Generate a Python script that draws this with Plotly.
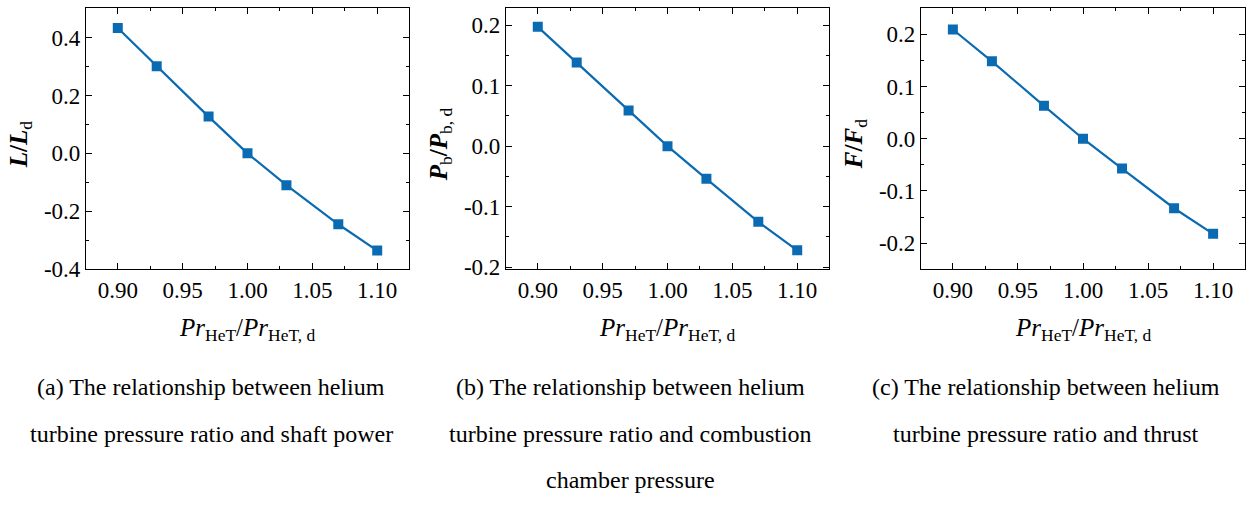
import plotly.graph_objects as go

# Normalised helium turbine pressure ratio (x) and relative changes of three outputs
pr_ratio = [0.90, 0.93, 0.97, 1.00, 1.03, 1.07, 1.10]
shaft_power = [0.433, 0.301, 0.127, 0.0, -0.110, -0.245, -0.336]
chamber_pressure = [0.197, 0.138, 0.059, 0.0, -0.054, -0.125, -0.172]
thrust = [0.209, 0.148, 0.063, 0.0, -0.057, -0.133, -0.182]

x_ticks = [0.90, 0.95, 1.00, 1.05, 1.10]
x_tick_text = ["0.90", "0.95", "1.00", "1.05", "1.10"]
ya_ticks = [-0.4, -0.2, 0.0, 0.2, 0.4]
ya_tick_text = ["-0.4", "-0.2", "0.0", "0.2", "0.4"]
ybc_ticks = [-0.2, -0.1, 0.0, 0.1, 0.2]
ybc_tick_text = ["-0.2", "-0.1", "0.0", "0.1", "0.2"]

y_titles = ["<b><i>L</i>/<i>L</i></b><sub>d</sub>",
            "<b><i>P</i></b><sub>b</sub><b>/<i>P</i></b><sub>b, d</sub>",
            "<b><i>F</i>/<i>F</i></b><sub>d</sub>"]
x_title = "<i>Pr</i><sub>HeT</sub>/<i>Pr</i><sub>HeT, d</sub>"
captions = [
    ["(a) The relationship between helium", "turbine pressure ratio and shaft power"],
    ["(b) The relationship between helium", "turbine pressure ratio and combustion",
     "chamber pressure"],
    ["(c) The relationship between helium", "turbine pressure ratio and thrust"],
]

W, H = 1247, 506
FONT = "Liberation Serif"
BLUE = "#0a6bb2"

x_domains = [(86, 409), (506, 829), (921, 1245)]
y_top, y_bot = 8, 276.5
y_domain = [1 - y_bot / H, 1 - y_top / H]

series = [shaft_power, chamber_pressure, thrust]
y_ranges = [[-0.401, 0.503], [-0.2035, 0.2285], [-0.25, 0.2505]]
y_tickvals = [ya_ticks, ybc_ticks, ybc_ticks]
y_ticktext = [ya_tick_text, ybc_tick_text, ybc_tick_text]
y_minor = [0.1, 0.05, 0.05]
caption_cx = [211, 630, 1046]
caption_y = [397, 445, 493]

fig = go.Figure()
for i, ys in enumerate(series):
    sfx = "" if i == 0 else str(i + 1)
    fig.add_trace(go.Scatter(
        x=pr_ratio, y=ys, mode="lines+markers",
        line=dict(color=BLUE, width=2.2),
        marker=dict(symbol="square", size=10, color=BLUE),
        xaxis="x" + sfx, yaxis="y" + sfx, showlegend=False,
    ))
    common = dict(showline=True, linecolor="black", linewidth=1.2, mirror="allticks",
                  ticks="inside", ticklen=6, tickwidth=1.2, tickcolor="black",
                  showgrid=False, zeroline=False,
                  tickfont=dict(family=FONT, size=23, color="black"))
    x0, x1 = x_domains[i]
    fig.update_layout({
        "xaxis" + sfx: dict(
            domain=[x0 / W, x1 / W], range=[0.8755, 1.1245], anchor="y" + sfx,
            tickmode="array", tickvals=x_ticks, ticktext=x_tick_text,
            minor=dict(ticks="inside", ticklen=3, tickwidth=1, tickcolor="black",
                       tick0=0.875, dtick=0.025),
            **common),
        "yaxis" + sfx: dict(
            domain=y_domain, range=y_ranges[i], anchor="x" + sfx,
            tickmode="array", tickvals=y_tickvals[i], ticktext=y_ticktext[i],
            minor=dict(ticks="inside", ticklen=3, tickwidth=1, tickcolor="black",
                       tick0=0, dtick=y_minor[i]),
            **common),
    })
    cx = (x0 + x1) / 2
    fig.add_annotation(x=cx / W, y=1 - 338 / H, xref="paper", yref="paper",
                       text=x_title, showarrow=False, xanchor="center", yanchor="middle",
                       font=dict(family=FONT, size=25, color="black"))
    fig.add_annotation(x=(x0 - 66) / W, y=1 - 148 / H, xref="paper", yref="paper",
                       text=y_titles[i], showarrow=False, textangle=-90,
                       xanchor="center", yanchor="middle",
                       font=dict(family=FONT, size=25, color="black"))
    for j, line in enumerate(captions[i]):
        fig.add_annotation(x=caption_cx[i] / W, y=1 - caption_y[j] / H,
                           xref="paper", yref="paper",
                           text=line, showarrow=False, xanchor="center", yanchor="middle",
                           font=dict(family=FONT, size=24, color="black"))

fig.update_layout(width=W, height=H, margin=dict(l=0, r=0, t=0, b=0),
                  paper_bgcolor="white", plot_bgcolor="white",
                  font=dict(family=FONT, color="black"))
fig.write_html("out.html")
